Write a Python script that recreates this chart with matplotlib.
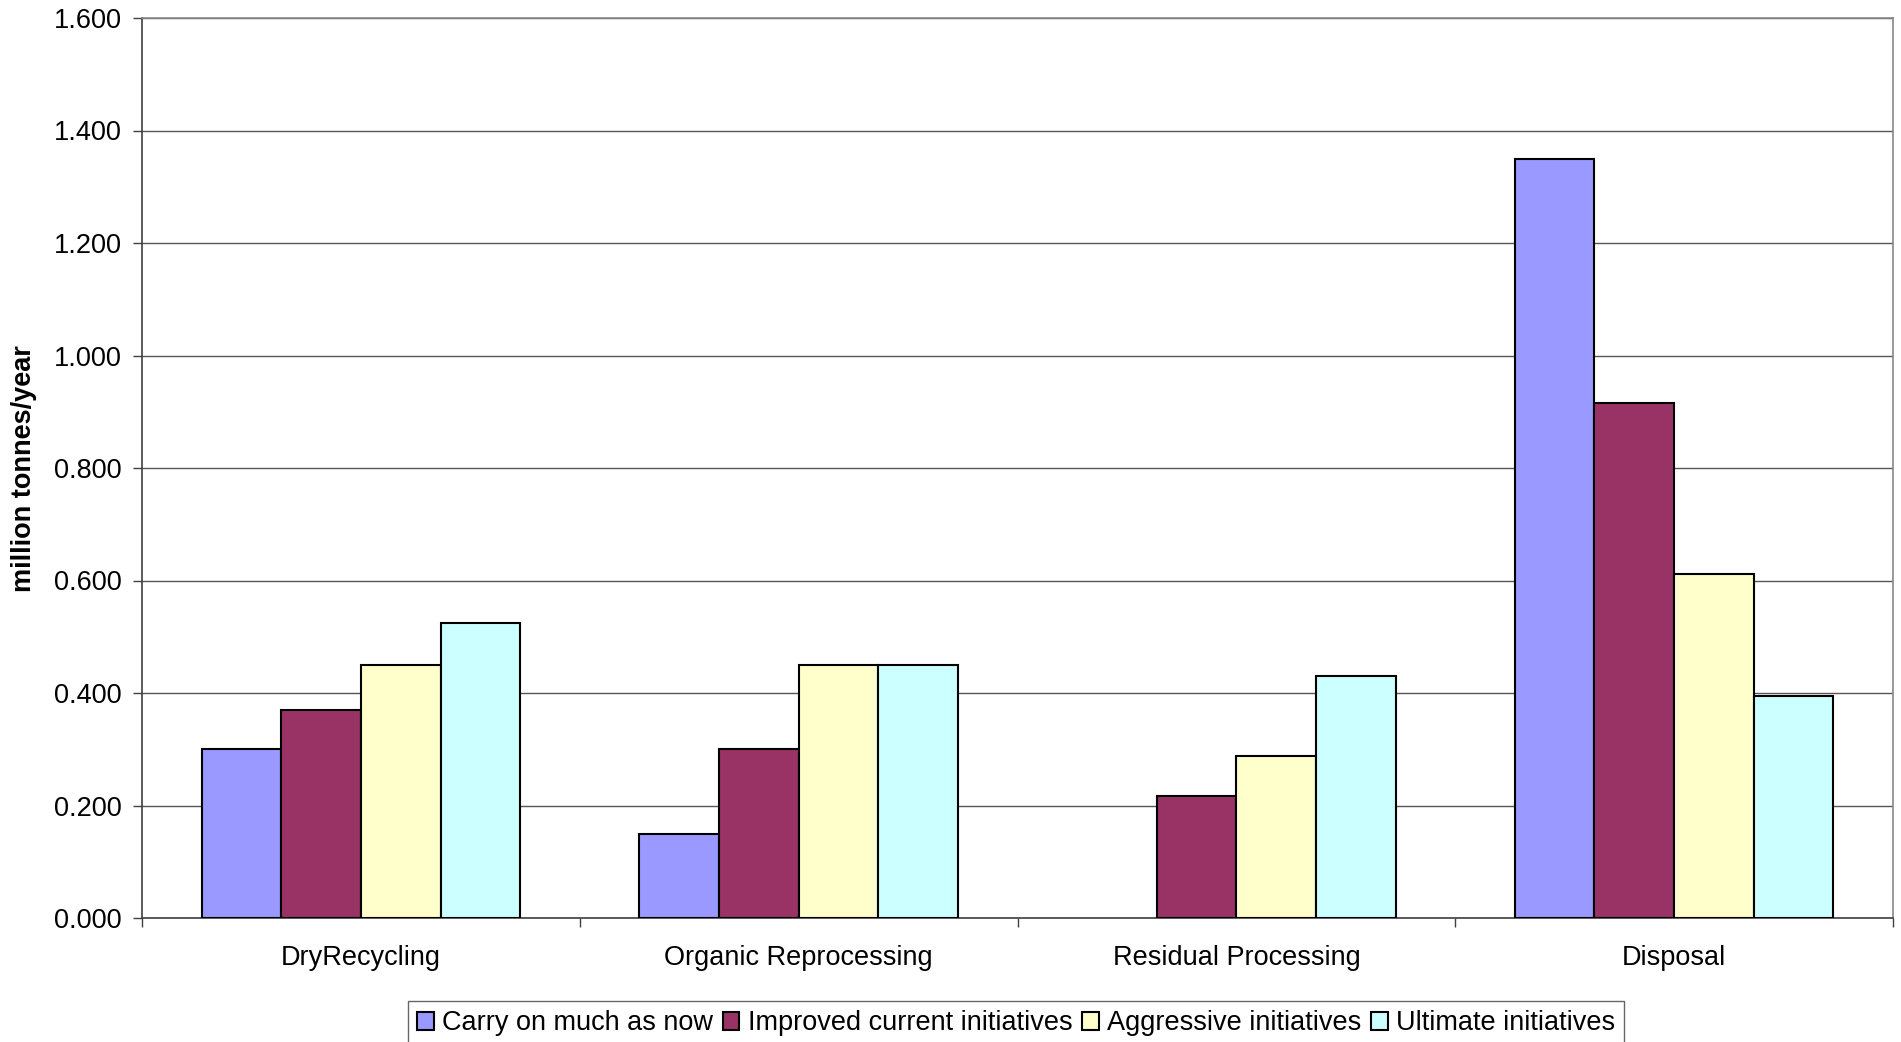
import matplotlib
matplotlib.use("Agg")
import matplotlib.pyplot as plt
import numpy as np
from matplotlib.ticker import FixedLocator, FormatStrFormatter

plt.rcParams['font.family'] = ['Liberation Sans', 'DejaVu Sans']

categories = ["DryRecycling", "Organic Reprocessing", "Residual Processing", "Disposal"]
series_names = ["Carry on much as now", "Improved current initiatives",
                "Aggressive initiatives", "Ultimate initiatives"]
carry_on = [0.300, 0.150, 0.000, 1.350]
improved = [0.370, 0.300, 0.217, 0.915]
aggressive = [0.450, 0.450, 0.288, 0.612]
ultimate = [0.525, 0.450, 0.431, 0.395]
y_ticks = [0.0, 0.2, 0.4, 0.6, 0.8, 1.0, 1.2, 1.4, 1.6]

series = [carry_on, improved, aggressive, ultimate]
colors = ["#9999FF", "#993366", "#FFFFCC", "#CCFFFF"]

W, H = 1901, 1042
fig = plt.figure(figsize=(W / 100, H / 100), dpi=100)
ax = fig.add_axes([142 / W, 1 - 918 / H, (1893 - 142) / W, (918 - 18) / H])

fs = 19.5
x = np.arange(len(categories))
bw = 0.182
for i, (vals, col, name) in enumerate(zip(series, colors, series_names)):
    offs = (i - 1.5) * bw
    # empty bars get no outline
    lws = [1.5 if v > 0 else 0 for v in vals]
    ax.bar(x + offs, vals, width=bw, color=col, edgecolor="black",
           linewidth=lws, label=name, zorder=3)

ax.set_xlim(-0.5, len(categories) - 0.5)
ax.set_ylim(0, 1.6)
ax.yaxis.set_major_locator(FixedLocator(y_ticks))
ax.yaxis.set_major_formatter(FormatStrFormatter("%.3f"))
ax.grid(axis="y", color="#555555", linewidth=1.0, zorder=1)

ax.set_xticks(x)
ax.set_xticklabels(categories)
ax.set_xticks(np.arange(-0.5, len(categories) + 0.5, 1.0), minor=True)
ax.tick_params(axis="x", which="major", length=0, pad=19.5, labelsize=fs)
ax.tick_params(axis="x", which="minor", length=6.5, width=1.0, color="#404040",
               direction="out")
ax.tick_params(axis="y", which="major", length=6.5, width=1.0, color="#404040",
               pad=8, labelsize=fs)

for side in ("top", "right"):
    ax.spines[side].set_color("#888888")
    ax.spines[side].set_linewidth(1.2)
for side in ("left", "bottom"):
    ax.spines[side].set_color("#404040")
    ax.spines[side].set_linewidth(1.2)

fig.text(24 / W, 1 - 469 / H, "million tonnes/year", rotation=90,
         ha="center", va="center", fontsize=fs, fontweight="bold")

leg = fig.legend(loc="upper left", bbox_to_anchor=(408 / W, 1 - 1001 / H),
                 bbox_transform=fig.transFigure, ncol=4, fontsize=fs,
                 frameon=True, fancybox=False, borderaxespad=0,
                 handlelength=0.6, handleheight=0.65, handletextpad=0.3,
                 columnspacing=0.38, borderpad=0.35)
leg.get_frame().set_edgecolor("#404040")
leg.get_frame().set_linewidth(1.0)

fig.savefig("out.png", dpi=100)
